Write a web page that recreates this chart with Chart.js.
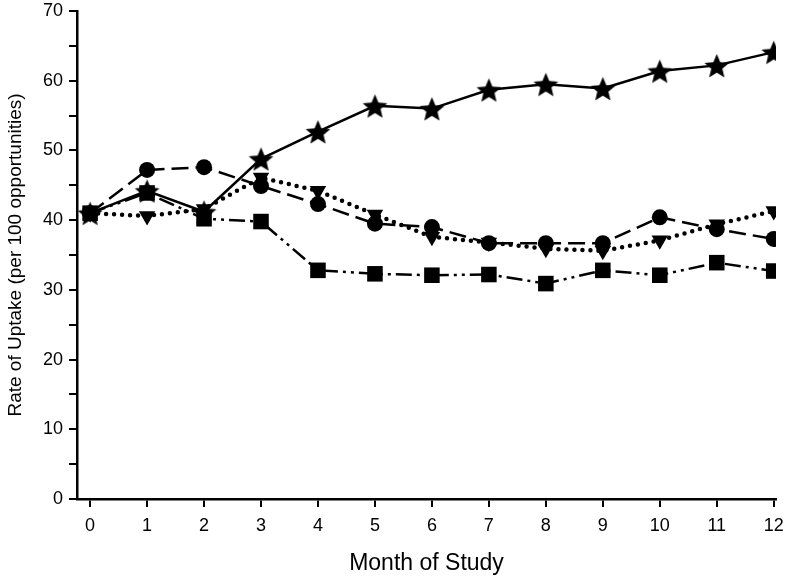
<!DOCTYPE html>
<html>
<head>
<meta charset="utf-8">
<script src="https://cdn.jsdelivr.net/npm/chart.js@4/dist/chart.umd.min.js"></script>
<style>
  html, body { margin: 0; padding: 0; background: #fff; }
  #wrap { width: 787px; height: 581px; }
</style>
</head>
<body>
<div id="wrap"><canvas id="chart" width="787" height="581"></canvas></div>
<script>
const months = [0, 1, 2, 3, 4, 5, 6, 7, 8, 9, 10, 11, 12];
const starSeries = [41, 44.2, 41.2, 48.8, 52.7, 56.4, 56.0, 58.7, 59.5, 58.9, 61.4, 62.2, 64.1];
const circleSeries = [41, 47.2, 47.6, 44.9, 42.3, 39.5, 39.0, 36.7, 36.7, 36.7, 40.4, 38.7, 37.3];
const triangleSeries = [41, 40.6, 41.6, 46.1, 44.2, 40.8, 37.6, 36.8, 35.9, 35.6, 37.1, 39.4, 41.3];
const squareSeries = [41, 43.9, 40.2, 39.8, 32.8, 32.3, 32.1, 32.2, 30.9, 32.8, 32.1, 33.9, 32.7];
const yTicks = [0, 5, 10, 15, 20, 25, 30, 35, 40, 45, 50, 55, 60, 65, 70];

const FONT = "'Liberation Sans', Arial, sans-serif";

// filled five point star, chart.js has no such point style
function makeStar(size) {
  const c = document.createElement('canvas');
  c.width = size; c.height = size;
  const ctx = c.getContext('2d');
  const cx = size / 2, cy = size / 2 + 1.5;
  const outer = size / 2 - 0.5, inner = outer * 0.45;
  ctx.beginPath();
  for (let i = 0; i < 10; i++) {
    const r = i % 2 === 0 ? outer : inner;
    const a = -Math.PI / 2 + i * Math.PI / 5;
    const px = cx + r * Math.cos(a), py = cy + r * Math.sin(a);
    if (i === 0) ctx.moveTo(px, py); else ctx.lineTo(px, py);
  }
  ctx.closePath();
  ctx.fillStyle = '#000';
  ctx.fill();
  return c;
}
const starImg = makeStar(27);

const toPoints = vals => vals.map((v, i) => ({ x: months[i], y: v }));

const base = {
  borderColor: '#000',
  backgroundColor: '#000',
  borderWidth: 2.5,
  tension: 0,
  fill: false,
  pointBorderWidth: 0
};

new Chart(document.getElementById('chart'), {
  type: 'line',
  data: {
    datasets: [
      Object.assign({}, base, {
        label: 'square',
        data: toPoints(squareSeries),
        borderDash: [16, 5, 3, 5, 3, 5],
        pointStyle: 'rect',
        pointRadius: 11
      }),
      Object.assign({}, base, {
        label: 'triangle',
        data: toPoints(triangleSeries),
        borderDash: [0, 8],
        borderCapStyle: 'round',
        borderWidth: 4.5,
        pointStyle: 'triangle',
        pointRotation: 180,
        pointRadius: 9.5
      }),
      Object.assign({}, base, {
        label: 'circle',
        data: toPoints(circleSeries),
        borderDash: [17, 7],
        pointStyle: 'circle',
        pointRadius: 8
      }),
      Object.assign({}, base, {
        label: 'star',
        data: toPoints(starSeries),
        pointStyle: starImg
      })
    ]
  },
  options: {
    responsive: false,
    animation: false,
    layout: { padding: { top: 6, right: 9, left: 0, bottom: 0 } },
    plugins: { legend: { display: false }, tooltip: { enabled: false } },
    scales: {
      x: {
        type: 'linear',
        min: -0.23,
        max: 12.04,
        afterBuildTicks: scale => { scale.ticks = months.map(v => ({ value: v })); },
        afterFit: scale => {
          scale.height = 82;
          scale.paddingLeft = 0;
          scale.paddingRight = 0;
        },
        border: { display: true, color: '#000', width: 2.5 },
        grid: { display: true, drawOnChartArea: false, drawTicks: true, tickLength: 8, color: '#000', lineWidth: 2 },
        ticks: { color: '#000', font: { family: FONT, size: 18 }, padding: 8, maxRotation: 0, autoSkip: false },
        title: { display: true, text: 'Month of Study', color: '#000', font: { family: FONT, size: 23 }, padding: { top: 12 } }
      },
      y: {
        min: 0,
        max: 70,
        afterBuildTicks: scale => { scale.ticks = yTicks.map(v => ({ value: v })); },
        afterFit: scale => {
          scale.width = 77;
          scale.paddingTop = 0;
          scale.paddingBottom = 0;
        },
        border: { display: true, color: '#000', width: 2.5 },
        grid: { display: true, drawOnChartArea: false, drawTicks: true, tickLength: 8, color: '#000', lineWidth: 2 },
        ticks: {
          color: '#000',
          font: { family: FONT, size: 18 },
          padding: 6,
          autoSkip: false,
          callback: v => (v % 10 === 0 ? String(v) : '')
        },
        title: { display: true, text: 'Rate of Uptake (per 100 opportunities)', color: '#000', font: { family: FONT, size: 19 }, padding: { bottom: 2 } }
      }
    }
  }
});
</script>
</body>
</html>
